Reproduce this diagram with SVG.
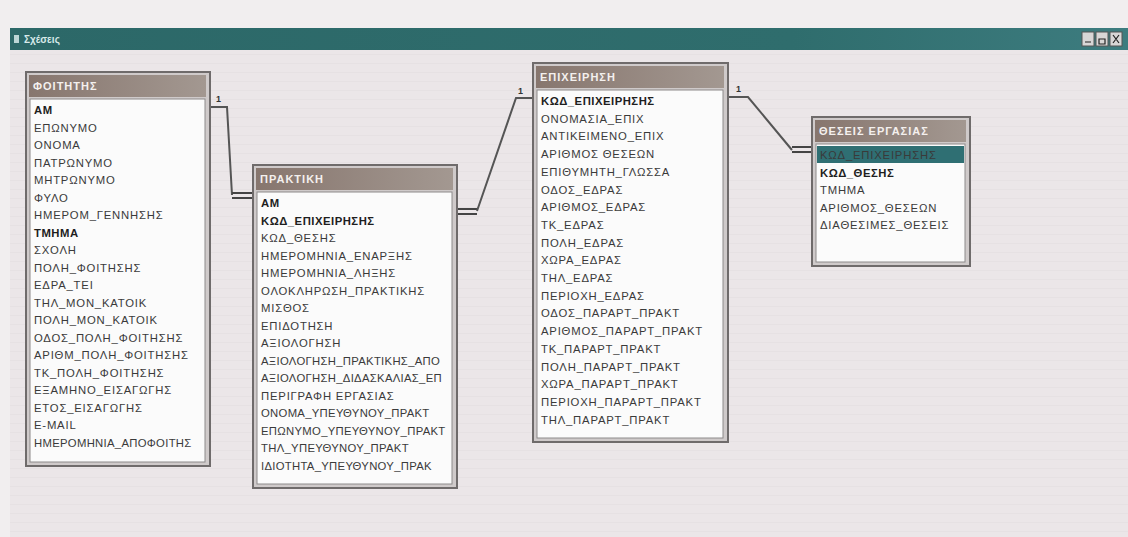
<svg xmlns="http://www.w3.org/2000/svg" width="1128" height="537" viewBox="0 0 1128 537">
<defs>
<style>
.fld{font-family:"Liberation Sans",Arial,sans-serif;font-size:11.3px;letter-spacing:0.8px;fill:#3a3a3a}
.pk{font-weight:bold;fill:#1e1e1e;letter-spacing:0.5px}
.tight{letter-spacing:0.3px}
.ttl{font-family:"Liberation Sans",Arial,sans-serif;font-size:11px;font-weight:bold;letter-spacing:1px;fill:#f4f0ee}
.frame{fill:#cfcaca;stroke:#6f6b6b;stroke-width:2}
.list{fill:#fbfbfb;stroke:#8d8a8a;stroke-width:1}
.tbar{fill:url(#tg)}
.conn{fill:none;stroke:#555;stroke-width:2}
.many{stroke:#444;stroke-width:2.2}
.one{font-family:"Liberation Sans",Arial,sans-serif;font-size:9px;font-weight:bold;fill:#333}
</style>
<linearGradient id="tg" x1="0" y1="0" x2="1" y2="0">
<stop offset="0" stop-color="#87766e"/>
<stop offset="1" stop-color="#a39891"/>
</linearGradient>
<linearGradient id="wg" x1="0" y1="0" x2="1" y2="0">
<stop offset="0" stop-color="#2c6868"/>
<stop offset="0.7" stop-color="#2f6d6d"/>
<stop offset="1" stop-color="#3d7c7f"/>
</linearGradient>
<pattern id="grid" width="9" height="9" patternUnits="userSpaceOnUse">
<rect width="9" height="9" fill="#ebe6e8"/>
<path d="M0 0.5H9" stroke="#e6e1e3" stroke-width="1"/>
</pattern>
<clipPath id="c1"><rect x="30" y="99" width="175" height="363"/></clipPath>
<clipPath id="c2"><rect x="257" y="192" width="195" height="292"/></clipPath>
<clipPath id="c3"><rect x="537" y="90" width="186" height="348"/></clipPath>
<clipPath id="c4"><rect x="816" y="144" width="149" height="118"/></clipPath>
</defs>
<rect x="0" y="0" width="1128" height="537" fill="#f1eeef"/>
<rect x="10" y="50" width="1118" height="487" fill="url(#grid)"/>
<g id="window-title">
<rect x="10" y="28" width="1118" height="22" fill="url(#wg)"/>
<rect x="14" y="35" width="5" height="8" fill="#bcd6d6"/>
<text x="24" y="43" font-family="Liberation Sans,Arial,sans-serif" font-size="10" font-weight="bold" fill="#d8eaea">Σχέσεις</text>
<rect x="1082" y="32" width="12" height="14" fill="#d8d6d6" stroke="#555"/>
<rect x="1096" y="32" width="12" height="14" fill="#d8d6d6" stroke="#555"/>
<rect x="1110" y="32" width="12" height="14" fill="#d8d6d6" stroke="#555"/>
<path d="M1085 42h6M1099 39h6v5h-6zM1113 35l6 8M1119 35l-6 8" stroke="#222" stroke-width="1.2" fill="none"/>
</g>
<g id="connectors">
<path class="conn" d="M209 107H227L232 195"/>
<path class="many" d="M232 193H253M232 198H253"/>
<text class="one" x="216" y="102">1</text>
<path class="many" d="M457 209H477M457 214H477"/>
<path class="conn" d="M477 211L516 98H533"/>
<text class="one" x="518" y="94">1</text>
<path class="conn" d="M728 97H748L792 150"/>
<path class="many" d="M792 147H812M792 152H812"/>
<text class="one" x="736" y="92">1</text>
</g>
<g id="table-foititis">
<rect class="frame" x="26" y="72" width="184" height="394"/>
<rect class="tbar" x="29" y="75" width="177" height="22"/>
<text class="ttl" x="33" y="90">ΦΟΙΤΗΤΗΣ</text>
<rect class="list" x="30" y="99" width="175" height="363"/>
<g clip-path="url(#c1)">
<text class="fld pk" x="34" y="114">ΑΜ</text>
<text class="fld" x="34" y="131.5">ΕΠΩΝΥΜΟ</text>
<text class="fld" x="34" y="149">ΟΝΟΜΑ</text>
<text class="fld" x="34" y="166.5">ΠΑΤΡΩΝΥΜΟ</text>
<text class="fld" x="34" y="184">ΜΗΤΡΩΝΥΜΟ</text>
<text class="fld" x="34" y="201.5">ΦΥΛΟ</text>
<text class="fld" x="34" y="219">ΗΜΕΡΟΜ_ΓΕΝΝΗΣΗΣ</text>
<text class="fld pk" x="34" y="236.5">ΤΜΗΜΑ</text>
<text class="fld" x="34" y="254" fill="#6a6a6a">ΣΧΟΛΗ</text>
<text class="fld" x="34" y="271.5">ΠΟΛΗ_ΦΟΙΤΗΣΗΣ</text>
<text class="fld" x="34" y="289">ΕΔΡΑ_ΤΕΙ</text>
<text class="fld" x="34" y="306.5">ΤΗΛ_ΜΟΝ_ΚΑΤΟΙΚ</text>
<text class="fld" x="34" y="324">ΠΟΛΗ_ΜΟΝ_ΚΑΤΟΙΚ</text>
<text class="fld" x="34" y="341.5">ΟΔΟΣ_ΠΟΛΗ_ΦΟΙΤΗΣΗΣ</text>
<text class="fld" x="34" y="359">ΑΡΙΘΜ_ΠΟΛΗ_ΦΟΙΤΗΣΗΣ</text>
<text class="fld" x="34" y="376.5">ΤΚ_ΠΟΛΗ_ΦΟΙΤΗΣΗΣ</text>
<text class="fld" x="34" y="394">ΕΞΑΜΗΝΟ_ΕΙΣΑΓΩΓΗΣ</text>
<text class="fld" x="34" y="411.5">ΕΤΟΣ_ΕΙΣΑΓΩΓΗΣ</text>
<text class="fld" x="34" y="429">E-MAIL</text>
<text class="fld tight" x="34" y="446.5">ΗΜΕΡΟΜΗΝΙΑ_ΑΠΟΦΟΙΤΗΣ</text>
</g>
</g>
<g id="table-praktiki">
<rect class="frame" x="253" y="165" width="204" height="323"/>
<rect class="tbar" x="256" y="168" width="197" height="22"/>
<text class="ttl" x="260" y="183">ΠΡΑΚΤΙΚΗ</text>
<rect class="list" x="257" y="192" width="195" height="292"/>
<g clip-path="url(#c2)">
<text class="fld pk" x="261" y="207">ΑΜ</text>
<text class="fld pk" x="261" y="224.5">ΚΩΔ_ΕΠΙΧΕΙΡΗΣΗΣ</text>
<text class="fld" x="261" y="242">ΚΩΔ_ΘΕΣΗΣ</text>
<text class="fld" x="261" y="259.5">ΗΜΕΡΟΜΗΝΙΑ_ΕΝΑΡΞΗΣ</text>
<text class="fld" x="261" y="277">ΗΜΕΡΟΜΗΝΙΑ_ΛΗΞΗΣ</text>
<text class="fld" x="261" y="294.5">ΟΛΟΚΛΗΡΩΣΗ_ΠΡΑΚΤΙΚΗΣ</text>
<text class="fld" x="261" y="312">ΜΙΣΘΟΣ</text>
<text class="fld" x="261" y="329.5">ΕΠΙΔΟΤΗΣΗ</text>
<text class="fld" x="261" y="347">ΑΞΙΟΛΟΓΗΣΗ</text>
<text class="fld tight" x="261" y="364.5">ΑΞΙΟΛΟΓΗΣΗ_ΠΡΑΚΤΙΚΗΣ_ΑΠΟ</text>
<text class="fld tight" x="261" y="382">ΑΞΙΟΛΟΓΗΣΗ_ΔΙΔΑΣΚΑΛΙΑΣ_ΕΠ</text>
<text class="fld" x="261" y="399.5">ΠΕΡΙΓΡΑΦΗ ΕΡΓΑΣΙΑΣ</text>
<text class="fld tight" x="261" y="417">ΟΝΟΜΑ_ΥΠΕΥΘΥΝΟΥ_ΠΡΑΚΤ</text>
<text class="fld tight" x="261" y="434.5">ΕΠΩΝΥΜΟ_ΥΠΕΥΘΥΝΟΥ_ΠΡΑΚΤ</text>
<text class="fld tight" x="261" y="452">ΤΗΛ_ΥΠΕΥΘΥΝΟΥ_ΠΡΑΚΤ</text>
<text class="fld tight" x="261" y="469.5">ΙΔΙΟΤΗΤΑ_ΥΠΕΥΘΥΝΟΥ_ΠΡΑΚ</text>
</g>
</g>
<g id="table-epixeirisi">
<rect class="frame" x="533" y="63" width="195" height="379"/>
<rect class="tbar" x="536" y="66" width="188" height="22"/>
<text class="ttl" x="540" y="81">ΕΠΙΧΕΙΡΗΣΗ</text>
<rect class="list" x="537" y="90" width="186" height="348"/>
<g clip-path="url(#c3)">
<text class="fld pk" x="541" y="105">ΚΩΔ_ΕΠΙΧΕΙΡΗΣΗΣ</text>
<text class="fld" x="541" y="122.7">ΟΝΟΜΑΣΙΑ_ΕΠΙΧ</text>
<text class="fld" x="541" y="140.4">ΑΝΤΙΚΕΙΜΕΝΟ_ΕΠΙΧ</text>
<text class="fld" x="541" y="158.1">ΑΡΙΘΜΟΣ ΘΕΣΕΩΝ</text>
<text class="fld" x="541" y="175.8">ΕΠΙΘΥΜΗΤΗ_ΓΛΩΣΣΑ</text>
<text class="fld" x="541" y="193.5">ΟΔΟΣ_ΕΔΡΑΣ</text>
<text class="fld" x="541" y="211.2">ΑΡΙΘΜΟΣ_ΕΔΡΑΣ</text>
<text class="fld" x="541" y="228.9">ΤΚ_ΕΔΡΑΣ</text>
<text class="fld" x="541" y="246.6">ΠΟΛΗ_ΕΔΡΑΣ</text>
<text class="fld" x="541" y="264.3">ΧΩΡΑ_ΕΔΡΑΣ</text>
<text class="fld" x="541" y="282">ΤΗΛ_ΕΔΡΑΣ</text>
<text class="fld" x="541" y="299.7">ΠΕΡΙΟΧΗ_ΕΔΡΑΣ</text>
<text class="fld" x="541" y="317.4">ΟΔΟΣ_ΠΑΡΑΡΤ_ΠΡΑΚΤ</text>
<text class="fld" x="541" y="335.1">ΑΡΙΘΜΟΣ_ΠΑΡΑΡΤ_ΠΡΑΚΤ</text>
<text class="fld" x="541" y="352.8">ΤΚ_ΠΑΡΑΡΤ_ΠΡΑΚΤ</text>
<text class="fld" x="541" y="370.5">ΠΟΛΗ_ΠΑΡΑΡΤ_ΠΡΑΚΤ</text>
<text class="fld" x="541" y="388.2">ΧΩΡΑ_ΠΑΡΑΡΤ_ΠΡΑΚΤ</text>
<text class="fld" x="541" y="405.9">ΠΕΡΙΟΧΗ_ΠΑΡΑΡΤ_ΠΡΑΚΤ</text>
<text class="fld" x="541" y="423.6" fill="#777">ΤΗΛ_ΠΑΡΑΡΤ_ΠΡΑΚΤ</text>
</g>
</g>
<g id="table-theseis">
<rect class="frame" x="812" y="117" width="158" height="149"/>
<rect class="tbar" x="815" y="120" width="151" height="22"/>
<text class="ttl" x="819" y="135">ΘΕΣΕΙΣ ΕΡΓΑΣΙΑΣ</text>
<rect class="list" x="816" y="144" width="149" height="118"/>
<rect x="817" y="146" width="147" height="17" fill="#2f6f73"/>
<g clip-path="url(#c4)">
<text class="fld" x="820" y="159" fill="#a8d8de">ΚΩΔ_ΕΠΙΧΕΙΡΗΣΗΣ</text>
<text class="fld pk" x="820" y="176.5">ΚΩΔ_ΘΕΣΗΣ</text>
<text class="fld" x="820" y="194">ΤΜΗΜΑ</text>
<text class="fld" x="820" y="211.5">ΑΡΙΘΜΟΣ_ΘΕΣΕΩΝ</text>
<text class="fld" x="820" y="229">ΔΙΑΘΕΣΙΜΕΣ_ΘΕΣΕΙΣ</text>
</g>
</g>
</svg>
